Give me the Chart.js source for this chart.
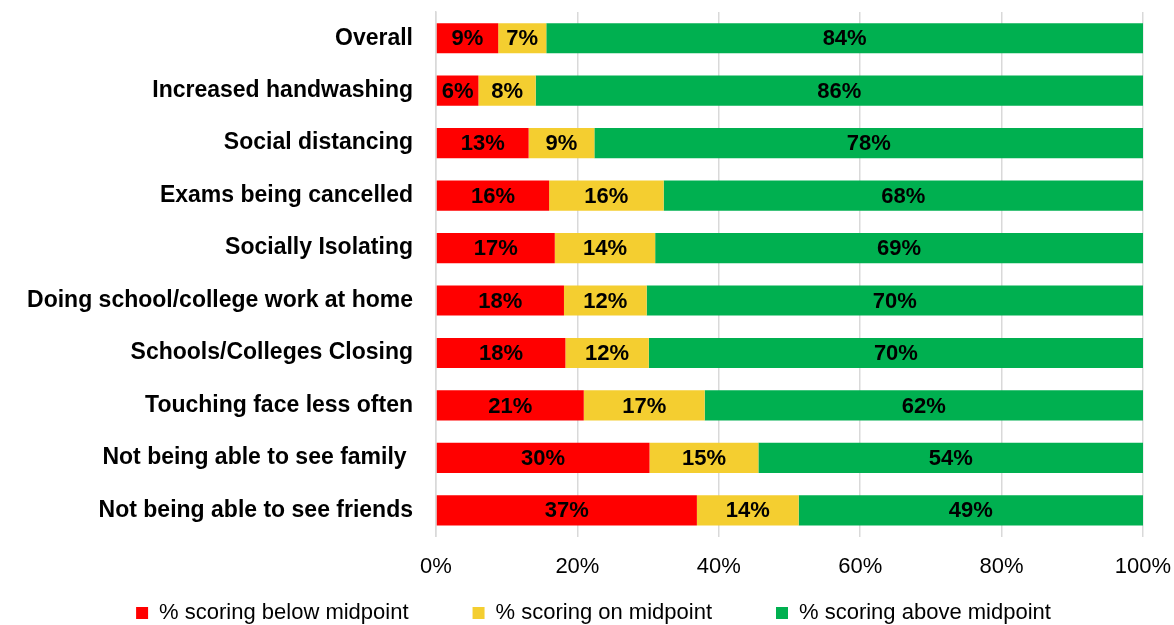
<!DOCTYPE html>
<html>
<head>
<meta charset="utf-8">
<script src="https://cdn.jsdelivr.net/npm/chart.js@4.4.1/dist/chart.umd.min.js"></script>
<style>
  html, body { margin: 0; padding: 0; background: #fff; }
  .wrap { width: 1174px; height: 625px; }
</style>
</head>
<body>
<div class="wrap"><canvas id="chart" width="1174" height="625"></canvas></div>
<script>
const categories = [
  "Overall",
  "Increased handwashing",
  "Social distancing",
  "Exams being cancelled",
  "Socially Isolating",
  "Doing school/college work at home",
  "Schools/Colleges Closing",
  "Touching face less often",
  "Not being able to see family ",
  "Not being able to see friends",
];
const belowMidpoint = [8.8, 6.0, 13.1, 16.0, 16.8, 18.1, 18.3, 20.9, 30.2, 36.9];
const onMidpoint = [6.8, 8.1, 9.3, 16.2, 14.2, 11.7, 11.8, 17.1, 15.4, 14.4];
const aboveMidpoint = [84.4, 85.9, 77.6, 67.8, 69.0, 70.2, 69.9, 62.0, 54.4, 48.7];
const xTicks = [0, 20, 40, 60, 80, 100];

const FONT = "'Liberation Sans', Arial, sans-serif";
const LEGEND_GAP = 64;

// draws the % inside each bar segment
const barLabels = {
  id: "barLabels",
  afterDatasetsDraw(chart) {
    const ctx = chart.ctx;
    ctx.save();
    ctx.font = "bold 22px " + FONT;
    ctx.fillStyle = "#000";
    ctx.textAlign = "center";
    ctx.textBaseline = "middle";
    chart.data.datasets.forEach((ds, i) => {
      chart.getDatasetMeta(i).data.forEach((bar, j) => {
        const x = (bar.x + bar.base) / 2;
        ctx.fillText(Math.round(ds.data[j]) + "%", x, bar.y + 1);
      });
    });
    ctx.restore();
  },
};

// legend padding is also the gap between items, so keep the wide gap
// but only take up a thin strip below the axis
const legendGap = {
  id: "legendGap",
  beforeLayout(chart) {
    const lg = chart.legend;
    if (lg && !lg.fitPatched) {
      const fit = lg.fit;
      lg.fit = function () {
        fit.call(this);
        this.height = 38;
      };
      lg.fitPatched = true;
    }
  },
  afterLayout(chart) {
    // grow the box upwards (legend draws clipped to its own box)
    const lg = chart.legend;
    lg.top -= LEGEND_GAP - 5;
    lg.height = lg.bottom - lg.top;
    lg.left += 22;
    lg.right += 22;
  },
};

new Chart(document.getElementById("chart"), {
  type: "bar",
  data: {
    labels: categories,
    datasets: [
      { label: "% scoring below midpoint", data: belowMidpoint, backgroundColor: "#FF0000" },
      { label: "% scoring on midpoint", data: onMidpoint, backgroundColor: "#F4CE30" },
      { label: "% scoring above midpoint", data: aboveMidpoint, backgroundColor: "#00B050" },
    ],
  },
  options: {
    indexAxis: "y",
    responsive: false,
    animation: false,
    categoryPercentage: 1,
    barPercentage: 0.575,
    layout: { padding: { top: 12, right: 31, left: 0, bottom: -10 } },
    scales: {
      x: {
        stacked: true,
        min: 0,
        max: 100,
        afterBuildTicks(axis) {
          axis.ticks = xTicks.map((v) => ({ value: v }));
        },
        afterFit(axis) {
          axis.paddingLeft = 0;
          axis.paddingRight = 0;
        },
        grid: { color: "#D9D9D9", lineWidth: 1.5, drawTicks: false },
        border: { display: false },
        ticks: {
          padding: 17,
          color: "#000",
          font: { family: FONT, size: 22 },
          callback: (v) => v + "%",
        },
      },
      y: {
        stacked: true,
        afterFit(axis) {
          axis.width = 436;
          axis.paddingTop = 0;
          axis.paddingBottom = 0;
        },
        grid: { display: false },
        border: { color: "#D9D9D9", width: 1.5 },
        ticks: {
          padding: 15,
          color: "#000",
          font: { family: FONT, size: 23, weight: "bold" },
        },
      },
    },
    plugins: {
      legend: {
        position: "bottom",
        labels: {
          boxWidth: 12,
          boxHeight: 12,
          padding: LEGEND_GAP,
          color: "#000",
          font: { family: FONT, size: 22 },
        },
      },
      tooltip: { enabled: false },
    },
  },
  plugins: [barLabels, legendGap],
});
</script>
</body>
</html>
